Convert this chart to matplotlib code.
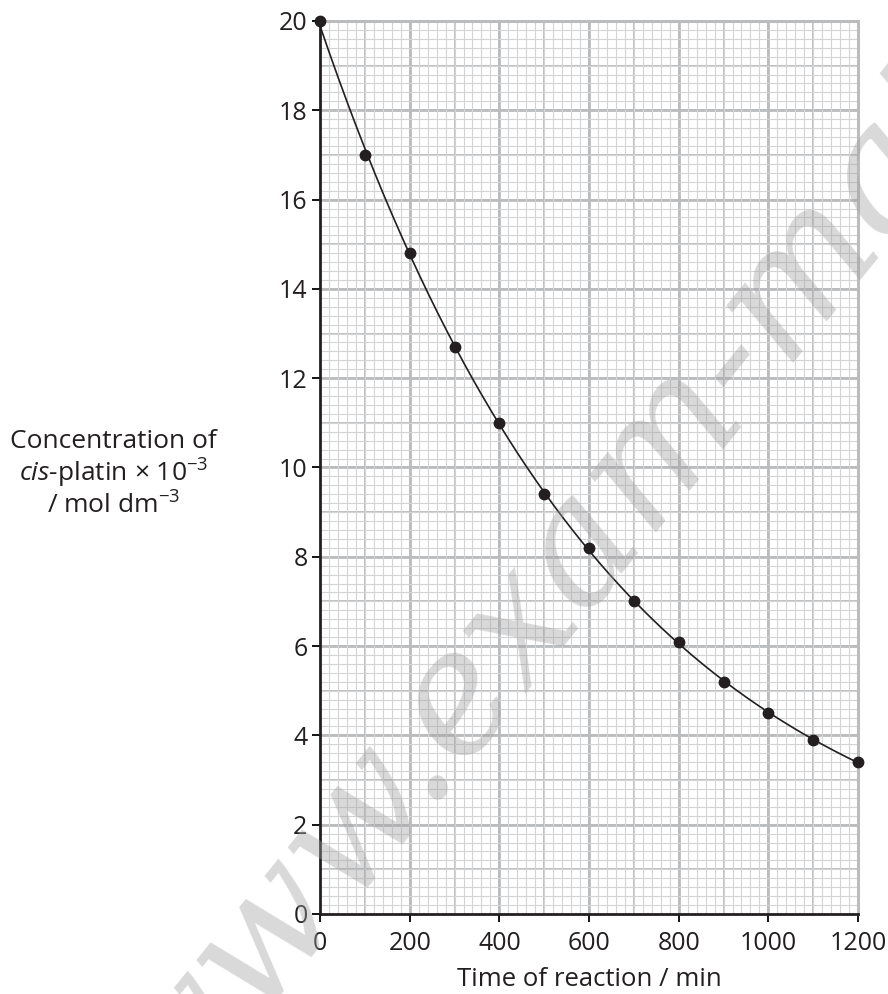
import numpy as np
import matplotlib.pyplot as plt
from matplotlib.ticker import MultipleLocator

# Concentration of cis-platin (x 10^-3 mol dm^-3) against time (min)
time_min = [0, 100, 200, 300, 400, 500, 600, 700, 800, 900, 1000, 1100, 1200]
conc = [20.0, 17.0, 14.8, 12.7, 11.0, 9.4, 8.2, 7.0, 6.1, 5.2, 4.5, 3.9, 3.4]

x_ticks = [0, 200, 400, 600, 800, 1000, 1200]
y_ticks = [0, 2, 4, 6, 8, 10, 12, 14, 16, 18, 20]

plt.rcParams['font.family'] = ['Open Sans', 'DejaVu Sans']
plt.rcParams['mathtext.fontset'] = 'custom'
plt.rcParams['mathtext.rm'] = 'Open Sans'
plt.rcParams['mathtext.it'] = 'Open Sans:italic'

fig = plt.figure(figsize=(8.88, 9.94), dpi=100)
ax = fig.add_axes([0.3604, 0.0805, 0.6059, 0.8984])

# graph paper grid
ax.xaxis.set_major_locator(MultipleLocator(200))
ax.yaxis.set_major_locator(MultipleLocator(2))
ax.xaxis.set_minor_locator(MultipleLocator(20))
ax.yaxis.set_minor_locator(MultipleLocator(0.2))
ax.grid(which='minor', color='#d3d4d6', lw=0.8, zorder=0)
for v in np.arange(100, 1200, 100):
    ax.axvline(v, color='#bfc0c2', lw=1.4, zorder=0.5)
for v in np.arange(1, 20, 1):
    ax.axhline(v, color='#bfc0c2', lw=1.4, zorder=0.5)
for v in x_ticks[1:-1]:
    ax.axvline(v, color='#bbbcbe', lw=2.0, zorder=0.6)
for v in y_ticks[1:-1]:
    ax.axhline(v, color='#bbbcbe', lw=2.0, zorder=0.6)

ax.set_xlim(0, 1200)
ax.set_ylim(0, 20)
ax.set_xticks(x_ticks)
ax.set_yticks(y_ticks)
ax.tick_params(which='minor', length=0)
ax.tick_params(which='major', direction='out', length=6, width=1.3, color='black',
               labelsize=18, labelcolor='#231f20')
ax.tick_params(axis='x', pad=6)
ax.tick_params(axis='y', pad=3)

for side in ['top', 'right']:
    ax.spines[side].set_color('#bbbcbe')
    ax.spines[side].set_linewidth(2.2)
for side in ['left', 'bottom']:
    ax.spines[side].set_color('#231f20')
    ax.spines[side].set_linewidth(2.0)
    ax.spines[side].set_zorder(3)

# smooth curve through the points (fit in log space)
coef = np.polyfit(time_min, np.log(conc), 3)
tt = np.linspace(0, 1200, 300)
ax.plot(tt, np.exp(np.polyval(coef, tt)), color='#231f20', lw=1.2, zorder=4)
ax.plot(time_min, conc, 'o', color='#231f20', ms=7.5, zorder=5, clip_on=False)

ax.set_xlabel('Time of reaction / min', fontsize=18.5, color='#231f20', labelpad=8)

fig.text(0.128, 0.523, 'Concentration of\n$\\mathit{cis}$-platin \u00d7 10$^{\u22123}$\n/ mol dm$^{\u22123}$',
         ha='center', va='center', fontsize=19, color='#231f20', linespacing=1.1)

# watermark
fig.text(0.185, -0.136, 'www.exam-mate.com', rotation=51, rotation_mode='anchor',
         ha='left', va='baseline', fontsize=122, family='DejaVu Serif', style='italic',
         color='#a0a0a0', alpha=0.4, zorder=10)

plt.savefig('out.png', dpi=100)
